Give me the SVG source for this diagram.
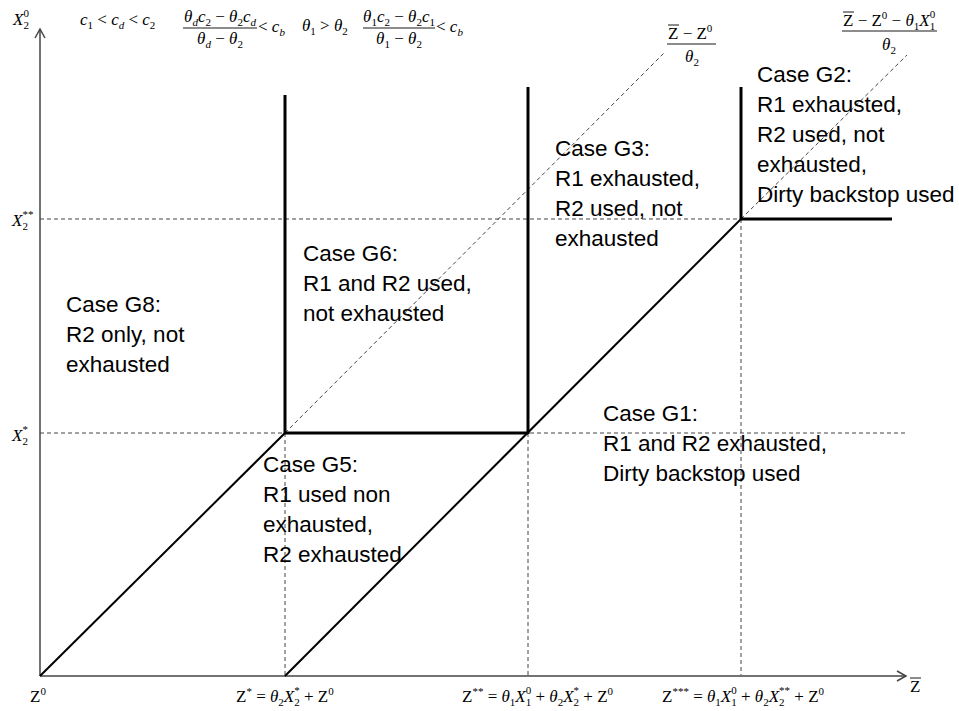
<svg xmlns="http://www.w3.org/2000/svg" width="959" height="711" viewBox="0 0 959 711">
<style>
.lbl{font-family:"Liberation Sans",Arial,sans-serif;font-size:22.5px;fill:#000}
.m{font-family:"Liberation Serif","Times New Roman",serif;font-size:17px;fill:#000}
.i{font-style:italic}
.s{font-size:11px}
.axis{stroke:#444;stroke-width:1.5;fill:none}
.thick{stroke:#000;stroke-width:3;fill:none}
.diag{stroke:#000;stroke-width:2;fill:none}
.dash{stroke:#444;stroke-width:1;stroke-dasharray:4 3;fill:none}
.frac{stroke:#000;stroke-width:0.9}
</style>
<rect width="959" height="711" fill="#fff"/>
<g id="connectors">
  <line class="dash" x1="40" y1="219" x2="741" y2="219"/>
  <line class="dash" x1="40" y1="433" x2="905" y2="433"/>
  <line class="dash" x1="285" y1="433" x2="285" y2="675"/>
  <line class="dash" x1="528" y1="433" x2="528" y2="675"/>
  <line class="dash" x1="741" y1="219" x2="741" y2="675"/>
  <line class="dash" x1="285" y1="433" x2="664" y2="53"/>
  <line class="dash" x1="741" y1="219" x2="907" y2="55"/>
  <line class="axis" x1="40" y1="676" x2="40" y2="29"/>
  <polyline class="axis" points="35,38 40,29 45,38"/>
  <line class="axis" x1="40" y1="676" x2="906" y2="676"/>
  <polyline class="axis" points="897,671 906,676 897,681"/>
  <line class="diag" x1="40" y1="676" x2="285" y2="433"/>
  <line class="diag" x1="285" y1="676" x2="741" y2="219"/>
  <line class="thick" x1="285" y1="433" x2="528" y2="433"/>
  <line class="thick" x1="285" y1="434" x2="285" y2="95"/>
  <line class="thick" x1="528" y1="434" x2="528" y2="87"/>
  <line class="thick" x1="741" y1="220" x2="741" y2="87"/>
  <line class="thick" x1="740" y1="219" x2="892" y2="219"/>
</g>
<g id="node-G2">
  <text class="lbl" x="757" y="82">Case G2:</text>
  <text class="lbl" x="757" y="112">R1 exhausted,</text>
  <text class="lbl" x="757" y="142">R2 used, not</text>
  <text class="lbl" x="757" y="172">exhausted,</text>
  <text class="lbl" x="757" y="202">Dirty backstop used</text>
</g>
<g id="node-G3">
  <text class="lbl" x="555" y="156">Case G3:</text>
  <text class="lbl" x="555" y="186">R1 exhausted,</text>
  <text class="lbl" x="555" y="216">R2 used, not</text>
  <text class="lbl" x="555" y="246">exhausted</text>
</g>
<g id="node-G6">
  <text class="lbl" x="303" y="261">Case G6:</text>
  <text class="lbl" x="303" y="291">R1 and R2 used,</text>
  <text class="lbl" x="303" y="321">not exhausted</text>
</g>
<g id="node-G8">
  <text class="lbl" x="66" y="312">Case G8:</text>
  <text class="lbl" x="66" y="342">R2 only, not</text>
  <text class="lbl" x="66" y="372">exhausted</text>
</g>
<g id="node-G1">
  <text class="lbl" x="603" y="421">Case G1:</text>
  <text class="lbl" x="603" y="451">R1 and R2 exhausted,</text>
  <text class="lbl" x="603" y="481">Dirty backstop used</text>
</g>
<g id="node-G5">
  <text class="lbl" x="263" y="472">Case G5:</text>
  <text class="lbl" x="263" y="502">R1 used non</text>
  <text class="lbl" x="263" y="532">exhausted,</text>
  <text class="lbl" x="263" y="562">R2 exhausted</text>
</g>
<g id="formulas-top">
  <text class="m" x="13" y="25"><tspan class="i">X</tspan><tspan class="s" dy="4">2</tspan><tspan class="s" dx="-5.5" dy="-12">0</tspan></text>
  <text class="m" x="80" y="25"><tspan class="i">c</tspan><tspan class="s" dy="4">1</tspan><tspan dy="-4"> &lt; </tspan><tspan class="i">c</tspan><tspan class="s i" dy="4">d</tspan><tspan dy="-4"> &lt; </tspan><tspan class="i">c</tspan><tspan class="s" dy="4">2</tspan></text>
  <text class="m" x="220" y="22" text-anchor="middle"><tspan class="i">θ</tspan><tspan class="s i" dy="4">d</tspan><tspan class="i" dy="-4">c</tspan><tspan class="s" dy="4">2</tspan><tspan dy="-4"> − </tspan><tspan class="i">θ</tspan><tspan class="s" dy="4">2</tspan><tspan class="i" dy="-4">c</tspan><tspan class="s i" dy="4">d</tspan></text>
  <line class="frac" x1="183" y1="28" x2="257" y2="28"/>
  <text class="m" x="220" y="44" text-anchor="middle"><tspan class="i">θ</tspan><tspan class="s i" dy="4">d</tspan><tspan dy="-4"> − </tspan><tspan class="i">θ</tspan><tspan class="s" dy="4">2</tspan></text>
  <text class="m" x="258" y="32">&lt; <tspan class="i">c</tspan><tspan class="s i" dy="4">b</tspan></text>
  <text class="m" x="302" y="31"><tspan class="i">θ</tspan><tspan class="s" dy="4">1</tspan><tspan dy="-4"> &gt; </tspan><tspan class="i">θ</tspan><tspan class="s" dy="4">2</tspan></text>
  <text class="m" x="399" y="22" text-anchor="middle"><tspan class="i">θ</tspan><tspan class="s" dy="4">1</tspan><tspan class="i" dy="-4">c</tspan><tspan class="s" dy="4">2</tspan><tspan dy="-4"> − </tspan><tspan class="i">θ</tspan><tspan class="s" dy="4">2</tspan><tspan class="i" dy="-4">c</tspan><tspan class="s" dy="4">1</tspan></text>
  <line class="frac" x1="363" y1="28" x2="435" y2="28"/>
  <text class="m" x="399" y="44" text-anchor="middle"><tspan class="i">θ</tspan><tspan class="s" dy="4">1</tspan><tspan dy="-4"> − </tspan><tspan class="i">θ</tspan><tspan class="s" dy="4">2</tspan></text>
  <text class="m" x="436" y="32">&lt; <tspan class="i">c</tspan><tspan class="s i" dy="4">b</tspan></text>
</g>
<g id="formulas-right">
  <text class="m" x="668" y="39">Z − Z<tspan class="s" dy="-7">0</tspan></text>
  <line class="frac" x1="668" y1="25" x2="679" y2="25"/>
  <line class="frac" x1="667" y1="44" x2="716" y2="44"/>
  <text class="m" x="692" y="62" text-anchor="middle"><tspan class="i">θ</tspan><tspan class="s" dy="4">2</tspan></text>
  <text class="m" x="843" y="26">Z − Z<tspan class="s" dy="-7">0</tspan><tspan dy="7"> − </tspan><tspan class="i">θ</tspan><tspan class="s" dy="4">1</tspan><tspan class="i" dy="-4">X</tspan><tspan class="s" dy="4">1</tspan><tspan class="s" dx="-5.5" dy="-12">0</tspan></text>
  <line class="frac" x1="843" y1="12" x2="854" y2="12"/>
  <line class="frac" x1="842" y1="31" x2="937" y2="31"/>
  <text class="m" x="889" y="50" text-anchor="middle"><tspan class="i">θ</tspan><tspan class="s" dy="4">2</tspan></text>
</g>
<g id="axis-labels">
  <text class="m" x="12" y="226"><tspan class="i">X</tspan><tspan class="s" dy="4">2</tspan><tspan class="s" dx="-5.5" dy="-12">**</tspan></text>
  <text class="m" x="12" y="441"><tspan class="i">X</tspan><tspan class="s" dy="4">2</tspan><tspan class="s" dx="-5.5" dy="-12">*</tspan></text>
  <text class="m" x="30" y="702">Z<tspan class="s" dy="-7">0</tspan></text>
  <text class="m" x="236" y="702">Z<tspan class="s" dy="-7">*</tspan><tspan dy="7"> = </tspan><tspan class="i">θ</tspan><tspan class="s" dy="4">2</tspan><tspan class="i" dy="-4">X</tspan><tspan class="s" dy="4">2</tspan><tspan class="s" dx="-5.5" dy="-12">*</tspan><tspan dy="8"> + Z</tspan><tspan class="s" dy="-7">0</tspan></text>
  <text class="m" x="462" y="702">Z<tspan class="s" dy="-7">**</tspan><tspan dy="7"> = </tspan><tspan class="i">θ</tspan><tspan class="s" dy="4">1</tspan><tspan class="i" dy="-4">X</tspan><tspan class="s" dy="4">1</tspan><tspan class="s" dx="-5.5" dy="-12">0</tspan><tspan dy="8"> + </tspan><tspan class="i">θ</tspan><tspan class="s" dy="4">2</tspan><tspan class="i" dy="-4">X</tspan><tspan class="s" dy="4">2</tspan><tspan class="s" dx="-5.5" dy="-12">*</tspan><tspan dy="8"> + Z</tspan><tspan class="s" dy="-7">0</tspan></text>
  <text class="m" x="662" y="702">Z<tspan class="s" dy="-7">***</tspan><tspan dy="7"> = </tspan><tspan class="i">θ</tspan><tspan class="s" dy="4">1</tspan><tspan class="i" dy="-4">X</tspan><tspan class="s" dy="4">1</tspan><tspan class="s" dx="-5.5" dy="-12">0</tspan><tspan dy="8"> + </tspan><tspan class="i">θ</tspan><tspan class="s" dy="4">2</tspan><tspan class="i" dy="-4">X</tspan><tspan class="s" dy="4">2</tspan><tspan class="s" dx="-5.5" dy="-12">**</tspan><tspan dy="8"> + Z</tspan><tspan class="s" dy="-7">0</tspan></text>
  <text class="m" x="910" y="692">Z</text>
  <line class="frac" x1="910" y1="678" x2="921" y2="678"/>
</g>
</svg>
